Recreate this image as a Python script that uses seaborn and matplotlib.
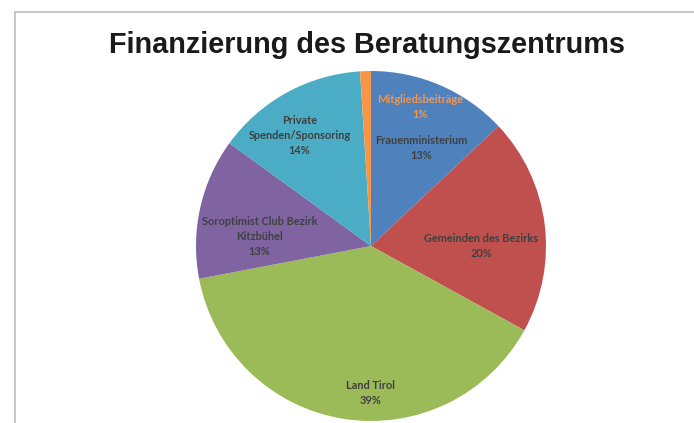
"""Pie chart: Finanzierung des Beratungszentrums."""

import numpy as np
import matplotlib
matplotlib.use("Agg")
import matplotlib.pyplot as plt
from matplotlib.lines import Line2D
import seaborn as sns

# data
categories = ["Frauenministerium", "Gemeinden des Bezirks", "Land Tirol",
              "Soroptimist Club Bezirk\nKitzbühel", "Private\nSpenden/Sponsoring",
              "Mitgliedsbeiträge"]
shares = [13, 20, 39, 13, 14, 1]
title = "Finanzierung des Beratungszentrums"

# style
colors = ["#4F81BD", "#C0504D", "#9BBB59", "#8064A2", "#4BACC6", "#F79646"]
label_colors = ["#404040"] * 5 + ["#F79646"]
# label placement: (radius fraction, angle clockwise from top in degrees)
label_pos = [(0.63, 27), (0.63, 90), (0.84, 180), (0.64, 275), (0.75, 327), (0.84, 19.5)]

sns.set_theme(style="white")
plt.rcParams["font.family"] = ["Liberation Sans", "DejaVu Sans"]

fig = plt.figure(figsize=(6.94, 4.23), dpi=100)
ax = fig.add_axes([196 / 694, 2 / 423, 350 / 694, 350 / 423])

wedges, _ = ax.pie(shares, colors=sns.color_palette(colors), startangle=90,
                   counterclock=False, radius=1.0,
                   wedgeprops=dict(linewidth=0))
ax.set_xlim(-1, 1)
ax.set_ylim(-1, 1)
ax.set_aspect("equal")

for name, val, col, (r, ang) in zip(categories, shares, label_colors, label_pos):
    a = np.deg2rad(90 - ang)
    ax.text(r * np.cos(a), r * np.sin(a), f"{name}\n{val}%", ha="center", va="center",
            fontsize=7.9, fontweight="bold", color=col, family=["Lato", "DejaVu Sans"],
            linespacing=1.45)

fig.text(367 / 694, 1 - 53 / 423, title, ha="center", va="baseline",
         fontsize=20.8, fontweight="bold", color="#1a1a1a")

# chart frame
fig.add_artist(Line2D([15 / 694, 1], [1 - 12 / 423] * 2, color="#bdbdbd", lw=1.2))
fig.add_artist(Line2D([15 / 694] * 2, [0, 1 - 12 / 423], color="#bdbdbd", lw=1.2))

fig.savefig("out.png", dpi=100)
